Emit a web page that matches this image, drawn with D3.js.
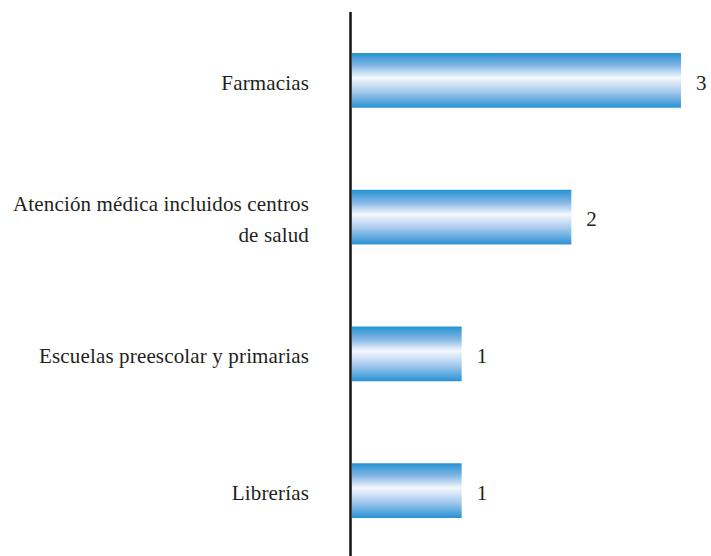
<!DOCTYPE html>
<html><head><meta charset="utf-8">
<script src="https://cdn.jsdelivr.net/npm/d3@7"></script>
<style>body{margin:0;background:#fff;}svg{display:block;}
text{font-family:"Liberation Serif",Tinos,"Times New Roman",Times,serif;}</style>
</head><body>
<svg id="chart" width="711" height="556"></svg>
<script>
const categories = [["Farmacias"], ["Atención médica incluidos centros", "de salud"], ["Escuelas preescolar y primarias"], ["Librerías"]];
const values = [3, 2, 1, 1];

const svg = d3.select("#chart");
const x = d3.scaleLinear().domain([0, 3]).range([352, 681]);
const y = d3.scaleBand().domain(d3.range(categories.length)).range([12, 559]).paddingInner(0.6).paddingOuter(0.3);

const defs = svg.append("defs");
const g = defs.append("linearGradient").attr("id", "barGrad").attr("x1", 0).attr("y1", 0).attr("x2", 0).attr("y2", 1);
[[0, "#2492d3"], [0.22, "#7fb4e4"], [0.45, "#f5f8fd"], [0.7, "#a9cbee"], [1, "#2792d3"]].forEach(([o, c]) =>
  g.append("stop").attr("offset", o).attr("stop-color", c));

svg.selectAll("rect.bar").data(values).join("rect")
  .attr("class", "bar")
  .attr("x", x(0))
  .attr("y", (d, i) => y(i))
  .attr("width", d => x(d) - x(0))
  .attr("height", y.bandwidth())
  .attr("fill", "url(#barGrad)");

svg.append("line").attr("x1", 350.5).attr("x2", 350.5).attr("y1", 12).attr("y2", 556)
  .attr("stroke", "#111").attr("stroke-width", 2.5);

categories.forEach((lines, i) => {
  const cy = y(i) + y.bandwidth() / 2;
  const lh = 31.6;
  const t = svg.append("text").attr("text-anchor", "end")
    .attr("font-size", 21).attr("letter-spacing", "0.15px").attr("fill", "#231f20");
  lines.forEach((ln, j) => {
    t.append("tspan").attr("x", 309)
      .attr("y", cy + (j - (lines.length - 1) / 2) * lh)
      .attr("dy", "0.44em").text(ln);
  });
});

svg.selectAll("text.val").data(values).join("text")
  .attr("class", "val")
  .attr("x", d => x(d) + 15)
  .attr("y", (d, i) => y(i) + y.bandwidth() / 2)
  .attr("dy", "0.44em")
  .attr("font-size", 21).attr("fill", "#231f20")
  .text(d => d);
</script>
</body></html>
